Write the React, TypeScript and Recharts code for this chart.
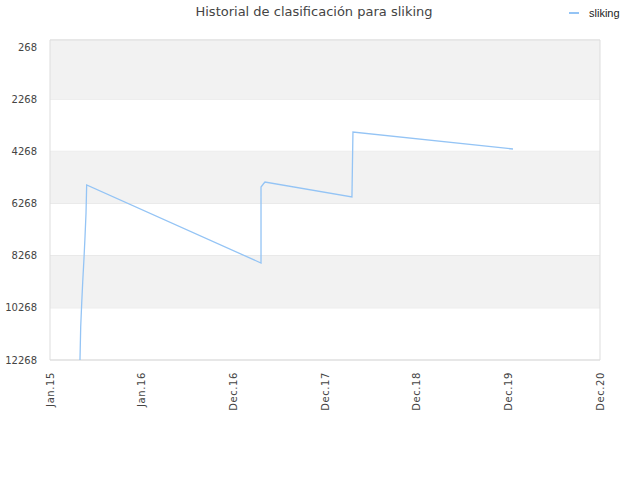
import React from "react";
import { LineChart, Line, XAxis, YAxis, CartesianGrid, ReferenceArea } from "recharts";

// x is measured in tick steps: 0 = Jan.15 ... 6 = Dec.20
const periods = [0.327, 0.335, 0.346, 0.357, 0.371, 0.382, 0.393, 0.4, 2.302, 2.302, 2.327, 2.345, 3.294, 3.305, 5.051];
const ranks = [12268, 10992, 10084, 9267, 8358, 7541, 6633, 5559, 8550, 5636, 5520, 5444, 6019, 3527, 4179];

const xLabels = ["Jan.15", "Jan.16", "Dec.16", "Dec.17", "Dec.18", "Dec.19", "Dec.20"];
const yTicks = [268, 2268, 4268, 6268, 8268, 10268, 12268];
const bands = [
  [0, 2268],
  [4268, 6268],
  [8268, 10268],
];

const data = periods.map((p, i) => ({ p, rank: ranks[i] }));
const xTicks = xLabels.map((_, i) => i);

const FONT = "'DejaVu Sans', sans-serif";
const LINE = "#94c4f5";

const XTick = (props: any) => {
  const { x, y, payload } = props;
  const ty = y + 4;
  return (
    <text
      x={x}
      y={ty}
      transform={`rotate(-90 ${x} ${ty})`}
      textAnchor="end"
      dominantBaseline="central"
      fontSize={10}
      fill="#444"
      fontFamily={FONT}
      letterSpacing={0.6}
    >
      {xLabels[payload.value]}
    </text>
  );
};

export default function App() {
  return (
    <div style={{ position: "absolute", left: 0, top: 0, width: 640, height: 480, background: "#fff" }}>
      <div
        style={{
          position: "absolute",
          top: 4,
          left: 0,
          width: 628,
          textAlign: "center",
          fontFamily: FONT,
          fontSize: 13,
          color: "#444",
        }}
      >
        Historial de clasificación para sliking
      </div>
      <div style={{ position: "absolute", top: 7, left: 569, display: "flex", alignItems: "center" }}>
        <span style={{ width: 10, height: 2, background: LINE, display: "inline-block", marginRight: 10 }} />
        <span style={{ fontFamily: "'Liberation Sans Narrow', 'Liberation Sans', sans-serif", fontSize: 11, color: "#222" }}>
          sliking
        </span>
      </div>
      <LineChart width={640} height={480} data={data} margin={{ top: 40, right: 40, bottom: 70, left: 0 }}>
        {bands.map(([a, b]) => (
          <ReferenceArea key={a} y1={a} y2={b} x1={0} x2={6} fill="#f2f2f2" fillOpacity={1} stroke="none" />
        ))}
        <CartesianGrid vertical={false} stroke="#e2e2e2" />
        <ReferenceArea y1={0} y2={12268} x1={0} x2={6} fill="none" stroke="#dddddd" />
        <XAxis
          dataKey="p"
          type="number"
          domain={[0, 6]}
          ticks={xTicks}
          interval={0}
          height={50}
          tickLine={false}
          axisLine={false}
          tick={<XTick />}
        />
        <YAxis
          type="number"
          reversed
          domain={[0, 12268]}
          ticks={yTicks}
          interval={0}
          width={50}
          tickLine={false}
          axisLine={false}
          tickMargin={7}
          tick={{ fontSize: 10, fill: "#444", fontFamily: FONT }}
        />
        <Line
          type="linear"
          dataKey="rank"
          stroke={LINE}
          strokeWidth={1.3}
          dot={false}
          isAnimationActive={false}
        />
      </LineChart>
    </div>
  );
}
